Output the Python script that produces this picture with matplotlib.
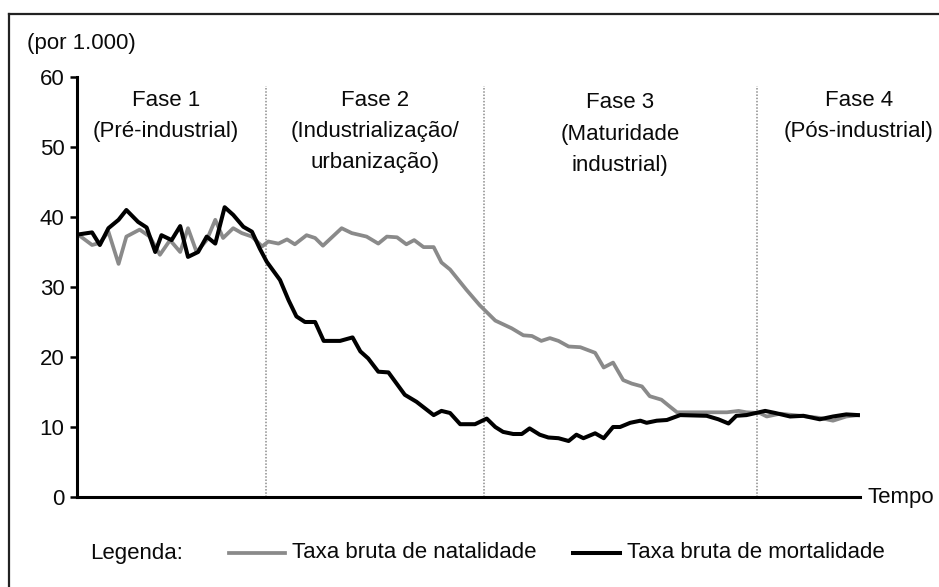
import matplotlib
matplotlib.use("Agg")
import matplotlib.pyplot as plt
from matplotlib.lines import Line2D

plt.rcParams['font.family'] = ['Liberation Sans', 'DejaVu Sans']

# ---- data (time index 0..100, rates per 1000) ----
t_mort = [0, 1.8, 2.8, 3.9, 5.2, 6.2, 7.7, 8.8, 9.9, 10.7, 12.0, 13.1, 14.1, 15.4,
          16.5, 17.6, 18.8, 19.9, 21.2, 22.3, 23.3, 24.2, 25.9, 27.0, 28.0, 29.1,
          30.4, 31.5, 33.6, 35.2, 36.2, 37.2, 38.5, 39.8, 41.9, 43.4, 45.6, 46.6,
          47.7, 49.0, 50.9, 52.4, 53.5, 54.5, 55.8, 56.9, 57.9, 59.2, 60.3, 61.6,
          62.9, 63.9, 64.8, 66.3, 67.4, 68.6, 69.5, 70.8, 72.1, 72.9, 74.2, 75.5,
          77.2, 80.6, 82.1, 83.4, 84.4, 85.7, 88.1, 89.4, 91.3, 93.0, 95.1, 96.8,
          98.5, 100.0]
mortalidade = [37.5, 37.8, 36.0, 38.4, 39.6, 41.0, 39.3, 38.5, 35.0, 37.4, 36.7,
               38.7, 34.3, 35.0, 37.2, 36.2, 41.4, 40.3, 38.6, 37.9, 35.5, 33.6,
               31.0, 28.1, 25.8, 25.0, 25.0, 22.3, 22.3, 22.8, 20.8, 19.8, 17.9,
               17.8, 14.6, 13.6, 11.7, 12.3, 12.0, 10.4, 10.4, 11.2, 10.0, 9.3,
               9.0, 9.0, 9.8, 8.9, 8.5, 8.4, 8.0, 8.9, 8.4, 9.1, 8.4, 10.0, 10.0,
               10.6, 10.9, 10.6, 10.9, 11.0, 11.7, 11.6, 11.1, 10.5, 11.6, 11.7,
               12.3, 12.0, 11.5, 11.6, 11.1, 11.5, 11.8, 11.7]

t_nat = [0, 1.8, 2.8, 3.9, 5.2, 6.2, 7.9, 9.2, 10.5, 11.8, 13.1, 14.1, 15.2, 16.5,
         17.6, 18.6, 19.9, 21.0, 22.3, 23.6, 24.4, 25.7, 26.8, 27.8, 29.3, 30.4,
         31.4, 33.8, 35.1, 37.0, 38.5, 39.6, 40.9, 42.1, 43.1, 44.3, 45.6, 46.6,
         47.7, 49.8, 51.5, 53.5, 55.6, 57.1, 58.2, 59.4, 60.5, 61.6, 62.9, 64.4,
         66.3, 67.4, 68.6, 69.9, 71.0, 72.3, 73.3, 74.8, 75.9, 76.8, 79.7, 83.2,
         84.7, 85.7, 87.4, 88.3, 90.0, 92.6, 95.1, 96.8, 98.5, 100.0]
natalidade = [37.5, 36.0, 36.3, 37.9, 33.3, 37.2, 38.2, 37.2, 34.6, 36.7, 35.0,
              38.4, 35.0, 36.7, 39.6, 37.0, 38.4, 37.7, 37.2, 35.8, 36.5, 36.2,
              36.8, 36.1, 37.4, 37.0, 35.9, 38.4, 37.7, 37.2, 36.2, 37.2, 37.1,
              36.1, 36.7, 35.7, 35.7, 33.5, 32.5, 29.6, 27.4, 25.2, 24.1, 23.1,
              23.0, 22.3, 22.7, 22.3, 21.5, 21.4, 20.6, 18.5, 19.2, 16.7, 16.2,
              15.8, 14.4, 13.9, 12.9, 12.1, 12.1, 12.1, 12.3, 12.1, 12.0, 11.5,
              11.9, 11.6, 11.3, 10.9, 11.5, 11.7]

phase_bounds = [24.1, 52.1, 87.1]
phase_labels = [["Fase 1", "(Pré-industrial)"],
                ["Fase 2", "(Industrialização/", "urbanização)"],
                ["Fase 3", "(Maturidade", "industrial)"],
                ["Fase 4", "(Pós-industrial)"]]
phase_centers = [11.3, 38.1, 69.5, 100.1]
phase_tops = [56.7, 56.7, 56.3, 56.7]
yticks = [0, 10, 20, 30, 40, 50, 60]

GREY = '#8a8a8a'
FS = 16
TXT = '#0a0a0a'

W, H = 939, 587
fig = plt.figure(figsize=(W / 100, H / 100), dpi=100)
ax = fig.add_axes([77 / W, (H - 497) / H, (860 - 77) / W, (497 - 77) / H])
ax.set_xlim(-0.13, 100.26)
ax.set_ylim(0, 60)

for b in phase_bounds:
    ax.plot([b, b], [0, 58.7], color='#8c8c8c', lw=1.1, ls=(0, (1, 1.1)), zorder=1)

ax.plot(t_nat, natalidade, color=GREY, lw=2.7, zorder=2, solid_joinstyle='round')
ax.plot(t_mort, mortalidade, color='black', lw=2.9, zorder=3, solid_joinstyle='round')

for cx, top, lines in zip(phase_centers, phase_tops, phase_labels):
    for i, s in enumerate(lines):
        ax.text(cx, top - i * 4.45, s, ha='center', va='center', fontsize=FS,
                color=TXT, clip_on=False)

for s in ['top', 'right']:
    ax.spines[s].set_visible(False)
for s in ['left', 'bottom']:
    ax.spines[s].set_linewidth(2.2)
    ax.spines[s].set_color('black')
ax.set_xticks([])
ax.set_yticks(yticks)
ax.tick_params(axis='y', length=5, width=1.8, pad=4, labelsize=FS, colors=TXT)
ax.tick_params(axis='y', color='black')

ax.text(1.01, 0.0, "Tempo", transform=ax.transAxes, ha='left', va='center',
        fontsize=FS, color=TXT)
fig.text(27 / W, 1 - 44 / H, "(por 1.000)", ha='left', va='center', fontsize=FS,
         color=TXT)

# outer frame (cropped at right and bottom)
fig.add_artist(Line2D([9 / W, 1.0], [1 - 14 / H, 1 - 14 / H], transform=fig.transFigure,
                      color='#222222', lw=1.6))
fig.add_artist(Line2D([9 / W, 9 / W], [0.0, 1 - 14 / H], transform=fig.transFigure,
                      color='#222222', lw=1.6))

# legend
ly = 1 - 553 / H
fig.text(90 / W, ly, "Legenda:", ha='left', va='center', fontsize=FS, color=TXT)
fig.add_artist(Line2D([229 / W, 285 / W], [ly, ly], transform=fig.transFigure,
                      color=GREY, lw=2.7))
fig.text(292 / W, ly, "Taxa bruta de natalidade", ha='left', va='center', fontsize=FS,
         color=TXT)
fig.add_artist(Line2D([573 / W, 620 / W], [ly, ly], transform=fig.transFigure,
                      color='black', lw=2.9))
fig.text(627 / W, ly, "Taxa bruta de mortalidade", ha='left', va='center', fontsize=FS,
         color=TXT)

fig.savefig("out.png", dpi=100, facecolor='white')
